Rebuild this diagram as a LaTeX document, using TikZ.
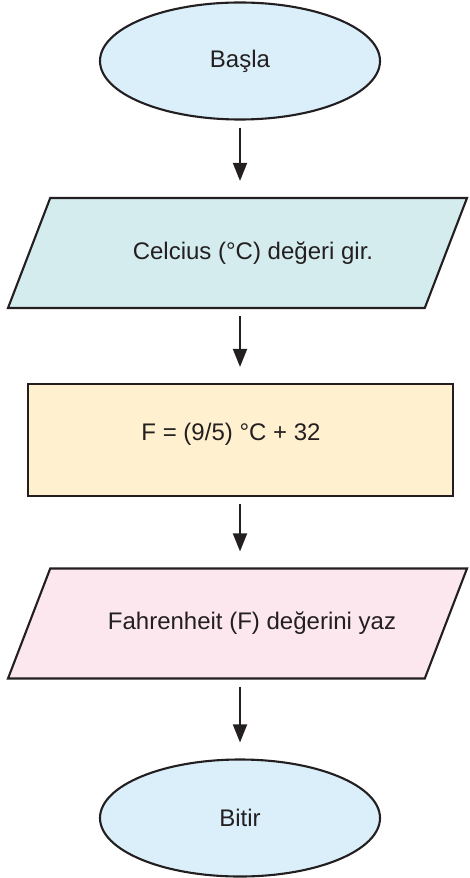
\documentclass[tikz,border=0pt]{standalone}
\usepackage{fontspec}
\setmainfont{Liberation Sans}
\usepackage{tikz}
\usetikzlibrary{arrows.meta, shapes.geometric, positioning}
\definecolor{inkblack}{RGB}{35,31,32}
\definecolor{termblue}{RGB}{218,239,250}
\definecolor{inputteal}{RGB}{212,236,238}
\definecolor{procyellow}{RGB}{255,240,208}
\definecolor{outpink}{RGB}{252,231,238}

\begin{document}
\begin{tikzpicture}[
    terminal/.style={ellipse, draw=inkblack, line width=1.2pt, fill=termblue, minimum width=5.6cm, minimum height=2.34cm},
    iobox/.style={trapezium, trapezium left angle=69, trapezium right angle=111, trapezium stretches body, draw=inkblack, line width=1.2pt, inner xsep=0pt, inner ysep=1.1cm, minimum width=9.18cm},
    procbox/.style={rectangle, draw=inkblack, line width=1.2pt, fill=procyellow, minimum width=8.5cm, minimum height=2.24cm},
    arrow/.style={-{Triangle[length=0.36cm, width=0.28cm]}, line width=1.1pt, draw=inkblack, shorten <=0.14cm, shorten >=0.32cm},
    every node/.style={font=\fontsize{13.66}{16}\selectfont, text=inkblack}
]
\useasboundingbox (0,0) rectangle (9.38,-17.56);
\node[terminal] (start) at (4.8, -1.22) {Başla};
\node[iobox, fill=inputteal, label={[xshift=0.31cm]center:Celcius (°C) değeri gir.}] (input) at (4.75, -5.06) {};
\node[procbox, label={[xshift=-0.19cm, yshift=0.12cm]center:F = (9/5) °C + 32}] (calc) at (4.81, -8.8) {};
\node[iobox, fill=outpink, label={[xshift=0.29cm]center:Fahrenheit (F) değerini yaz}] (output) at (4.75, -12.47) {};
\node[terminal] (stop) at (4.8, -16.36) {Bitir};
\draw[arrow] (start.south) -- (start.south |- input.north);
\draw[arrow] (start.south |- input.south) -- (start.south |- calc.north);
\draw[arrow] (start.south |- calc.south) -- (start.south |- output.north);
\draw[arrow] (start.south |- output.south) -- (stop.north);
\end{tikzpicture}
\end{document}
